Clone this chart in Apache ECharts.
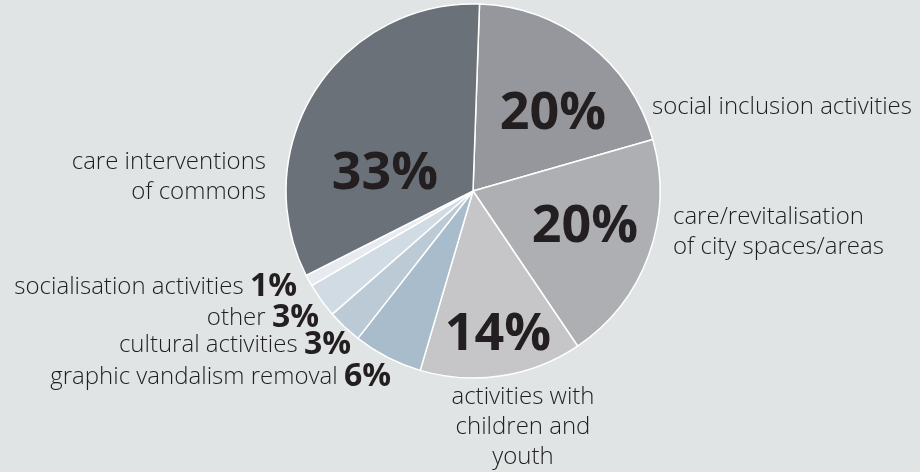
<!DOCTYPE html>
<html>
<head>
<meta charset="utf-8">
<script src="https://cdn.jsdelivr.net/npm/echarts@6/dist/echarts.min.js"></script>
<style>
  html, body { margin: 0; padding: 0; background: #e1e4e5; }
  #chart { width: 920px; height: 472px; }
</style>
</head>
<body>
<div id="chart"></div>
<script>
// shares of actions, clockwise from 12 o'clock
const categories = [
  'social inclusion activities',
  'care/revitalisation\nof city spaces/areas',
  'activities with\nchildren and\nyouth',
  'graphic vandalism removal',
  'cultural activities',
  'other',
  'socialisation activities',
  'care interventions\nof commons'
]
const shares = [20, 20, 14, 6, 3, 3, 1, 33]
const sliceColors = ['#95979d', '#aeafb3', '#c6c6c8', '#a9bccb', '#bccad6', '#d1dbe3', '#e7ebef', '#6b7179']

// which slices carry the big percentage inside
const insideLabel = [true, true, true, false, false, false, false, true]

// label anchors (pixels)
const insidePos = [[553, 114], [585, 227], [498, 335], null, null, null, null, [385, 174]]
const outsidePos = [
  [652, 107, 'left'],
  [673, 232, 'left'],
  [523, 427, 'center'],
  [391, 377, 'right'],
  [351, 345, 'right'],
  [319, 318, 'right'],
  [297, 287, 'right'],
  [266, 177, 'right']
]

const chart = echarts.init(document.getElementById('chart'))

const pieData = categories.map((name, i) => ({
  name,
  value: shares[i],
  itemStyle: { color: sliceColors[i] }
}))

const baseSeries = {
  type: 'pie',
  center: [473, 191],
  radius: 187,
  startAngle: 88,
  clockwise: true,
  silent: true,
  animation: false,
  labelLine: { show: false }
}

chart.setOption({
  backgroundColor: '#e1e4e5',
  series: [
    {
      ...baseSeries,
      itemStyle: { borderColor: '#ffffff', borderWidth: 1.5 },
      data: pieData,
      label: {
        show: true,
        overflow: 'none',
        formatter: p => insideLabel[p.dataIndex] ? `${p.value}%` : '',
        fontFamily: 'Open Sans',
        fontWeight: 'bold',
        fontSize: 52,
        color: '#231f20'
      },
      labelLayout: p => {
        const pos = insidePos[p.dataIndex]
        if (!pos) return {}
        return { x: pos[0], y: pos[1], align: 'center', verticalAlign: 'middle' }
      }
    },
    {
      ...baseSeries,
      itemStyle: { color: 'rgba(0,0,0,0)' },
      data: pieData.map(d => ({ name: d.name, value: d.value })),
      label: {
        show: true,
        overflow: 'none',
        formatter: p => insideLabel[p.dataIndex]
          ? `{n|${p.name.split('\n').join('}\n{n|')}}`
          : `{n|${p.name} }{p|${p.value}%}`,
        rich: {
          n: {
            fontFamily: 'Open Sans',
            fontWeight: 300,
            fontSize: 24,
            lineHeight: 30,
            color: '#1e1e1e'
          },
          p: {
            fontFamily: 'Open Sans',
            fontWeight: 'bold',
            fontSize: 32,
            lineHeight: 30,
            color: '#231f20'
          }
        }
      },
      labelLayout: p => {
        const pos = outsidePos[p.dataIndex]
        return { x: pos[0], y: pos[1], align: pos[2], verticalAlign: 'middle' }
      }
    }
  ]
})
</script>
</body>
</html>
